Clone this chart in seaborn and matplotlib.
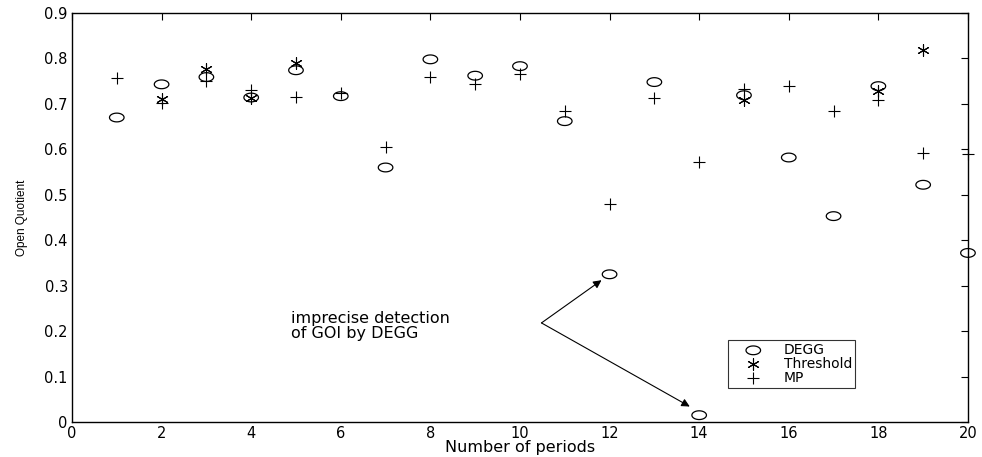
import numpy as np
import pandas as pd
import matplotlib
matplotlib.use("Agg")
import matplotlib.pyplot as plt
from matplotlib.path import Path
import seaborn as sns

periods = list(range(1, 21))
degg = [0.670, 0.743, 0.759, 0.714, 0.774, 0.717, 0.560, 0.798, 0.762, 0.783,
        0.662, 0.325, 0.748, 0.015, 0.719, 0.582, 0.453, 0.739, 0.522, 0.372]
threshold = [np.nan, 0.711, 0.777, 0.714, 0.790, np.nan, np.nan, np.nan, np.nan, np.nan,
             np.nan, np.nan, np.nan, np.nan, 0.708, np.nan, np.nan, 0.728, 0.818, np.nan]
mp = [0.758, 0.702, 0.750, 0.730, 0.715, 0.724, 0.605, 0.760, 0.744, 0.766,
      0.685, 0.480, 0.714, 0.572, 0.733, 0.739, 0.684, 0.708, 0.592, 0.590]

df = pd.DataFrame({"period": periods, "DEGG": degg, "Threshold": threshold, "MP": mp})

sns.set_style("white")
plt.rcParams['font.family'] = ['DejaVu Sans']
plt.rcParams['text.color'] = 'black'
plt.rcParams['axes.labelcolor'] = 'black'

# MATLAB-style squashed circle
t = np.linspace(0, 2 * np.pi, 60)
ellipse = Path(np.column_stack([np.cos(t), 0.6 * np.sin(t)]), closed=True)

fig = plt.figure(figsize=(9.82, 4.57), dpi=100)
ax = fig.add_axes([0.0733, 0.0766, 0.9124, 0.895])

sns.scatterplot(data=df, x="period", y="DEGG", marker=ellipse, s=110, facecolors="none",
                edgecolor="black", linewidth=0.9, label="DEGG", ax=ax, clip_on=False)
sns.scatterplot(data=df, x="period", y="Threshold", marker=(6, 2, 0), s=70, color="black",
                linewidth=0.8, label="Threshold", ax=ax, clip_on=False)
sns.scatterplot(data=df, x="period", y="MP", marker="+", s=75, color="black",
                linewidth=0.8, label="MP", ax=ax, clip_on=False)

ax.set_xlim(0, 20)
ax.set_ylim(0, 0.9)
ax.set_xticks(range(0, 21, 2))
ax.set_yticks(np.round(np.arange(0, 0.91, 0.1), 1))
ax.set_yticklabels(["0"] + [f"{v:.1f}" for v in np.arange(0.1, 0.91, 0.1)])
ax.tick_params(direction="in", length=5, width=0.8, top=True, right=True,
               labelsize=10.5, pad=3, colors="black")
for sp in ax.spines.values():
    sp.set_color("black")
    sp.set_linewidth(1.0)

ax.set_xlabel("Number of periods", fontsize=11.5, labelpad=-1, color="black")
ax.set_ylabel("Open Quotient", fontsize=8.5, labelpad=12, color="black",
              family=["Liberation Sans Narrow", "Liberation Sans"])

ax.text(4.9, 0.211, "imprecise detection\nof GOI by DEGG", fontsize=11.5,
        ha="left", va="center", linespacing=0.95, color="black")
for tx, ty in [(11.82, 0.312), (13.79, 0.034)]:
    ax.annotate("", xy=(tx, ty), xytext=(10.48, 0.218),
                arrowprops=dict(arrowstyle="-|>", color="black", lw=0.8,
                                mutation_scale=12, shrinkA=0, shrinkB=0))

leg = ax.legend(loc="upper left", bbox_to_anchor=(0.7325, 0.2), frameon=True,
                fancybox=False, edgecolor="black", fontsize=10, borderpad=0.2,
                labelspacing=0.0, handletextpad=0.6, handlelength=3.2,
                borderaxespad=0)
leg.get_frame().set_linewidth(0.8)
for txt in leg.get_texts():
    txt.set_color("black")

fig.savefig("out.png", dpi=100)
